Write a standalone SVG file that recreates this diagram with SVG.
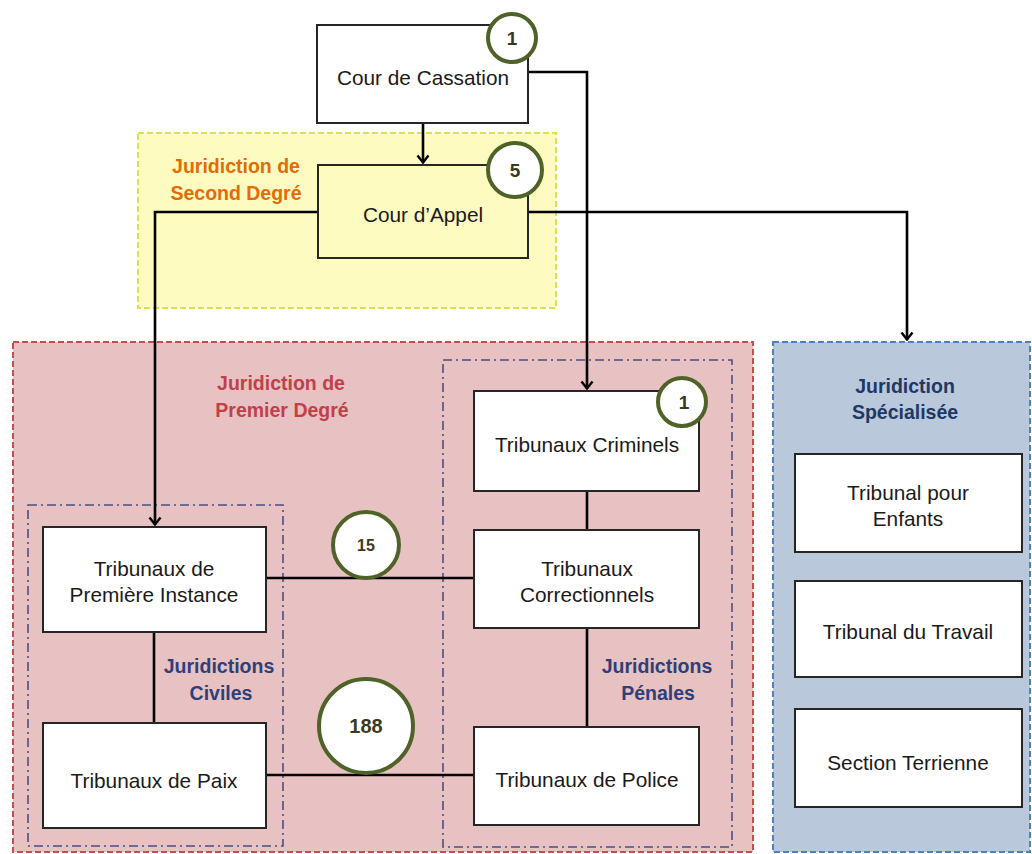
<svg xmlns="http://www.w3.org/2000/svg" width="1032" height="854" viewBox="0 0 1032 854">
  <defs>
    <marker id="arrowDown" viewBox="0 0 14 14" refX="7" refY="13" markerWidth="14" markerHeight="14" markerUnits="userSpaceOnUse" orient="0">
      <path d="M1.5,5.5 L7,12.5 L12.5,5.5" fill="none" stroke="#000" stroke-width="2.4"/>
    </marker>
  </defs>
  <style>
    .node { fill: #ffffff; stroke: #262626; stroke-width: 2; }
    .ntext { font-family: "Liberation Sans", Arial, sans-serif; font-size: 20.8px; fill: #1a1a1a; text-anchor: middle; }
    .label { font-family: "Liberation Sans", Arial, sans-serif; font-size: 19.5px; font-weight: bold; text-anchor: middle; }
    .badge { fill: #ffffff; stroke: #4f6228; stroke-width: 4; }
    .btext { font-family: "Liberation Sans", Arial, sans-serif; font-weight: bold; fill: #3a3a20; text-anchor: middle; }
    .conn { fill: none; stroke: #000; stroke-width: 2.6; }
    .sub { fill: none; stroke: #4a4f80; stroke-width: 1.6; stroke-dasharray: 9 4 2 4; }
  </style>

  <!-- background -->
  <rect x="0" y="0" width="1032" height="854" fill="#ffffff"/>

  <!-- zones -->
  <g id="zone-second">
    <rect x="138" y="133" width="418" height="175" fill="#fdfbbf" stroke="#d5e64d" stroke-width="2" stroke-dasharray="6 3"/>
    <text class="label" fill="#e36c09" x="236" y="173">Juridiction de</text>
    <text class="label" fill="#e36c09" x="236" y="200">Second Degré</text>
  </g>
  <g id="zone-premier">
    <rect x="13" y="342" width="740" height="510" fill="#e8c1c2" stroke="#c0504d" stroke-width="2" stroke-dasharray="6 3"/>
    <text class="label" fill="#c0404a" x="281" y="390">Juridiction de</text>
    <text class="label" fill="#c0404a" x="282" y="417">Premier Degré</text>
  </g>
  <g id="zone-specialisee">
    <rect x="773" y="342" width="257" height="510" fill="#b9c8db" stroke="#4f81bd" stroke-width="2" stroke-dasharray="6 3"/>
    <text class="label" fill="#1f3864" x="905" y="393">Juridiction</text>
    <text class="label" fill="#1f3864" x="905" y="419">Spécialisée</text>
  </g>
  <g id="zone-civiles">
    <rect class="sub" x="28" y="505" width="255" height="341"/>
    <text class="label" fill="#2e3f7a" x="219" y="673">Juridictions</text>
    <text class="label" fill="#2e3f7a" x="221" y="700">Civiles</text>
  </g>
  <g id="zone-penales">
    <rect class="sub" x="443" y="360" width="289" height="487"/>
    <text class="label" fill="#2e3f7a" x="657" y="673">Juridictions</text>
    <text class="label" fill="#2e3f7a" x="658" y="700">Pénales</text>
  </g>

  <!-- connectors -->
  <g id="connectors">
    <path class="conn" d="M423,123 V163" marker-end="url(#arrowDown)"/>
    <path class="conn" d="M528,72 H587 V389" marker-end="url(#arrowDown)"/>
    <path class="conn" d="M318,212 H155 V525" marker-end="url(#arrowDown)"/>
    <path class="conn" d="M528,212 H907 V340" marker-end="url(#arrowDown)"/>
    <path class="conn" d="M587,491 V530"/>
    <path class="conn" d="M587,628 V727"/>
    <path class="conn" d="M154,632 V723"/>
    <path class="conn" d="M266,578 H474"/>
    <path class="conn" d="M266,775 H474"/>
  </g>

  <!-- courts -->
  <g id="cour-cassation">
    <rect class="node" x="317" y="25" width="211" height="98"/>
    <text class="ntext" x="423" y="85">Cour de Cassation</text>
  </g>
  <g id="cour-appel">
    <rect class="node" x="318" y="165" width="210" height="93" style="fill:#fdfbbf"/>
    <text class="ntext" x="423" y="222">Cour d’Appel</text>
  </g>
  <g id="tribunaux-criminels">
    <rect class="node" x="474" y="391" width="225" height="100"/>
    <text class="ntext" x="587" y="452">Tribunaux Criminels</text>
  </g>
  <g id="tribunaux-correctionnels">
    <rect class="node" x="474" y="530" width="225" height="98"/>
    <text class="ntext" x="587" y="576">Tribunaux</text>
    <text class="ntext" x="587" y="602">Correctionnels</text>
  </g>
  <g id="tribunaux-police">
    <rect class="node" x="474" y="727" width="225" height="98"/>
    <text class="ntext" x="587" y="787">Tribunaux de Police</text>
  </g>
  <g id="tribunaux-premiere-instance">
    <rect class="node" x="43" y="527" width="223" height="105"/>
    <text class="ntext" x="154" y="576">Tribunaux de</text>
    <text class="ntext" x="154" y="602">Première Instance</text>
  </g>
  <g id="tribunaux-paix">
    <rect class="node" x="43" y="723" width="223" height="105"/>
    <text class="ntext" x="154" y="788">Tribunaux de Paix</text>
  </g>
  <g id="tribunal-enfants">
    <rect class="node" x="795" y="454" width="227" height="98"/>
    <text class="ntext" x="908" y="500">Tribunal pour</text>
    <text class="ntext" x="908" y="526">Enfants</text>
  </g>
  <g id="tribunal-travail">
    <rect class="node" x="795" y="581" width="227" height="96"/>
    <text class="ntext" x="908" y="639">Tribunal du Travail</text>
  </g>
  <g id="section-terrienne">
    <rect class="node" x="795" y="709" width="227" height="98"/>
    <text class="ntext" x="908" y="770">Section Terrienne</text>
  </g>

  <!-- counts -->
  <g id="badge-cassation">
    <circle class="badge" cx="512" cy="38" r="24"/>
    <text class="btext" x="512" y="45" font-size="19">1</text>
  </g>
  <g id="badge-appel">
    <circle class="badge" cx="515" cy="170" r="27"/>
    <text class="btext" x="515" y="177" font-size="19">5</text>
  </g>
  <g id="badge-criminels">
    <circle class="badge" cx="682" cy="402" r="24"/>
    <text class="btext" x="684" y="409" font-size="19">1</text>
  </g>
  <g id="badge-correctionnels">
    <circle class="badge" cx="366" cy="545" r="33"/>
    <text class="btext" x="366" y="551" font-size="16">15</text>
  </g>
  <g id="badge-police">
    <circle class="badge" cx="366" cy="726" r="47"/>
    <text class="btext" x="366" y="733" font-size="20">188</text>
  </g>
</svg>
